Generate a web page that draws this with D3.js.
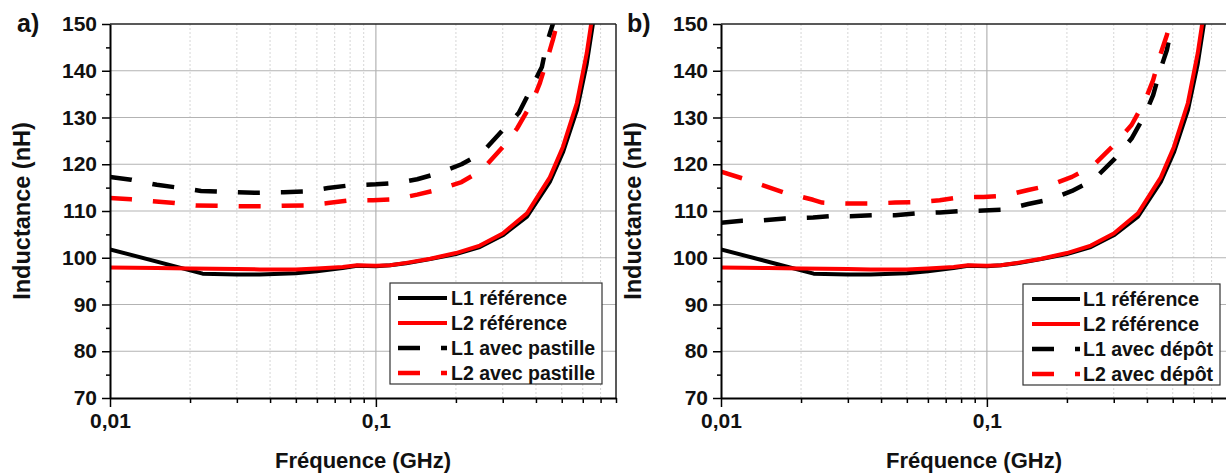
<!DOCTYPE html>
<html><head><meta charset="utf-8">
<script src="https://cdn.jsdelivr.net/npm/d3@7"></script>
<style>
body{margin:0;background:#fff}
svg text{font-family:"Liberation Sans",Arial,sans-serif;font-weight:bold;fill:#111}
</style>
</head><body><svg id="chart" width="1226" height="475"></svg>
<script>
// ---------- DATA ----------
// Reference curves (identical in both panels)
const refL1Freq = [0.01, 0.0223, 0.03, 0.0366, 0.05, 0.06, 0.075, 0.085, 0.1, 0.113, 0.13, 0.16, 0.2, 0.246, 0.3, 0.37, 0.451, 0.505, 0.57, 0.621, 0.655, 0.69];
const refL1Val  = [101.8, 96.6, 96.4, 96.4, 96.7, 97.1, 97.8, 98.3, 98.2, 98.4, 98.8, 99.7, 100.8, 102.3, 104.8, 108.8, 116.2, 122.5, 131.5, 141.5, 150, 160];
const refL2Freq = [0.01, 0.015, 0.02, 0.03, 0.0366, 0.05, 0.06, 0.075, 0.085, 0.1, 0.113, 0.13, 0.16, 0.2, 0.246, 0.3, 0.37, 0.451, 0.505, 0.57, 0.621, 0.645, 0.68];
const refL2Val  = [97.9, 97.8, 97.7, 97.6, 97.5, 97.5, 97.7, 98.0, 98.4, 98.3, 98.4, 98.9, 99.8, 101.0, 102.6, 105.2, 109.5, 117.2, 123.7, 133.1, 143.8, 150, 160];

// Panel a) "avec pastille"
const pastL1Freq = [0.01, 0.012, 0.015, 0.018, 0.022, 0.03, 0.035, 0.045, 0.055, 0.066, 0.08, 0.1, 0.12, 0.143, 0.17, 0.21, 0.25, 0.3, 0.345, 0.386, 0.421, 0.44, 0.463, 0.49];
const pastL1Val  = [117.3, 116.7, 115.6, 115.0, 114.3, 114.0, 113.9, 114.0, 114.2, 114.9, 115.5, 115.7, 116.0, 116.8, 118.0, 120.0, 122.4, 127.3, 131.0, 136.5, 140.8, 146.0, 150.0, 156];
const pastL2Freq = [0.01, 0.012, 0.0144, 0.0175, 0.021, 0.031, 0.038, 0.0443, 0.055, 0.066, 0.08, 0.0976, 0.118, 0.143, 0.17, 0.21, 0.25, 0.3, 0.34, 0.386, 0.414, 0.44, 0.463, 0.49];
const pastL2Val  = [112.8, 112.5, 112.1, 111.7, 111.2, 111.0, 111.0, 111.1, 111.2, 111.7, 112.3, 112.3, 112.5, 113.5, 114.5, 116.2, 118.7, 123.7, 127.7, 133.1, 137.4, 142.3, 146.6, 152];

// Panel b) "avec dépôt"
const depL1Freq = [0.01, 0.012, 0.0144, 0.0174, 0.0222, 0.0257, 0.0306, 0.0373, 0.0452, 0.0547, 0.0665, 0.0806, 0.097, 0.117, 0.143, 0.173, 0.209, 0.251, 0.303, 0.35, 0.394, 0.422, 0.449, 0.475, 0.498, 0.52];
const depL1Val  = [107.5, 107.9, 108.0, 108.4, 108.6, 108.9, 108.9, 109.1, 109.1, 109.5, 109.7, 110.0, 110.1, 110.3, 111.5, 112.5, 114.3, 116.6, 121.2, 125.5, 130.7, 134.8, 140.2, 144.4, 150, 154];
const depL2Freq = [0.01, 0.012, 0.0144, 0.0174, 0.0222, 0.024, 0.0257, 0.0306, 0.0373, 0.0452, 0.0547, 0.0665, 0.0806, 0.097, 0.117, 0.143, 0.173, 0.209, 0.251, 0.303, 0.35, 0.394, 0.422, 0.449, 0.475, 0.5];
const depL2Val  = [118.4, 117.0, 115.5, 113.9, 112.4, 111.8, 111.7, 111.6, 111.6, 111.8, 111.9, 112.3, 113.0, 113.0, 113.3, 114.5, 115.5, 117.3, 119.7, 124.3, 128.4, 133.7, 138.0, 143.4, 147.6, 152];

// Axes
const xDomain = [0.01, 0.8];
const yDomain = [70, 150];
const xMajorTicks = [0.01, 0.1];
const xTickLabels = ["0,01", "0,1"];
const xMinorTicks = [0.02,0.03,0.04,0.05,0.06,0.07,0.08,0.09,0.2,0.3,0.4,0.5,0.6,0.7,0.8];
const yMajorTicks = [70, 80, 90, 100, 110, 120, 130, 140, 150];
const yMinorTicks = [75, 85, 95, 105, 115, 125, 135, 145];
const xTitle = "Fréquence (GHz)";
const yTitle = "Inductance (nH)";
const panelLabels = ["a)", "b)"];
const legendA = ["L1 référence", "L2 référence", "L1 avec pastille", "L2 avec pastille"];
const legendB = ["L1 référence", "L2 référence", "L1 avec dépôt", "L2 avec dépôt"];

// ---------- DRAW ----------
const svg = d3.select("#chart");
const BLACK = "#000", RED = "#ff0000";
const zip = (f, v) => f.map((d, i) => ({f: d, v: v[i]}));

const panels = [
  {L: 110, R: 616, T: 24, B: 398, label: panelLabels[0], labelX: 17, yTitleX: 30, xTitleX: 363,
   dashed: [[pastL1Freq, pastL1Val], [pastL2Freq, pastL2Val]], legend: legendA,
   leg: {x: 390, y: 283, w: 212, h: 101, l1: 398, l2: 447, tx: 451}},
  {L: 721, R: 1227, T: 24, B: 398, label: panelLabels[1], labelX: 627, yTitleX: 641, xTitleX: 974,
   dashed: [[depL1Freq, depL1Val], [depL2Freq, depL2Val]], legend: legendB,
   leg: {x: 1023, y: 284, w: 197, h: 101, l1: 1032, l2: 1080, tx: 1083}}
];

panels.forEach((p, pi) => {
  const x = d3.scaleLog().domain(xDomain).range([p.L, p.R]);
  const y = d3.scaleLinear().domain(yDomain).range([p.B, p.T]);
  const g = svg.append("g");

  // minor vertical grid
  g.selectAll(".vminor").data(xMinorTicks.filter(d => d < 0.8)).enter().append("line")
    .attr("x1", d => x(d)).attr("x2", d => x(d)).attr("y1", p.T).attr("y2", p.B)
    .attr("stroke", "#d6d6d6").attr("stroke-width", 1).attr("stroke-dasharray", "2,2");
  // major grid
  g.selectAll(".hmajor").data(yMajorTicks.filter(d => d > 70 && d < 150)).enter().append("line")
    .attr("x1", p.L).attr("x2", p.R).attr("y1", d => y(d)).attr("y2", d => y(d))
    .attr("stroke", "#b3b3b3").attr("stroke-width", 1.2);
  g.selectAll(".vmajor").data([0.1]).enter().append("line")
    .attr("x1", d => x(d)).attr("x2", d => x(d)).attr("y1", p.T).attr("y2", p.B)
    .attr("stroke", "#b3b3b3").attr("stroke-width", 1.2);

  // clip
  const cid = "clip" + pi;
  svg.append("clipPath").attr("id", cid).append("rect")
    .attr("x", p.L).attr("y", p.T).attr("width", p.R - p.L).attr("height", p.B - p.T);
  const lines = g.append("g").attr("clip-path", `url(#${cid})`);
  const line = d3.line().x(d => x(d.f)).y(d => y(d.v));

  const series = [
    {d: zip(refL1Freq, refL1Val), c: BLACK, dash: null},
    {d: zip(refL2Freq, refL2Val), c: RED, dash: null},
    {d: zip(p.dashed[0][0], p.dashed[0][1]), c: BLACK, dash: "22,21"},
    {d: zip(p.dashed[1][0], p.dashed[1][1]), c: RED, dash: "22,21"}
  ];
  series.forEach(s => {
    lines.append("path").datum(s.d).attr("d", line)
      .attr("fill", "none").attr("stroke", s.c)
      .attr("stroke-width", s.dash ? 4.5 : 4)
      .attr("stroke-linejoin", "round")
      .attr("stroke-dasharray", s.dash);
  });

  // frame top/right
  g.append("line").attr("x1", p.L).attr("x2", p.R).attr("y1", p.T).attr("y2", p.T)
    .attr("stroke", "#222").attr("stroke-width", 1.5);
  g.append("line").attr("x1", p.R).attr("x2", p.R).attr("y1", p.T).attr("y2", p.B)
    .attr("stroke", "#222").attr("stroke-width", 1.5);

  // axes
  const yAx = g.append("g").attr("transform", `translate(${p.L},0)`)
    .call(d3.axisLeft(y).tickValues(yMajorTicks).tickSize(8).tickSizeOuter(0).tickPadding(5));
  yAx.selectAll("text").style("font-size", "21px");
  g.append("g").attr("transform", `translate(${p.L},0)`)
    .call(d3.axisLeft(y).tickValues(yMinorTicks).tickSize(4).tickFormat("").tickSizeOuter(0))
    .select(".domain").remove();
  const xAx = g.append("g").attr("transform", `translate(0,${p.B})`)
    .call(d3.axisBottom(x).tickValues(xMajorTicks).tickSize(9).tickSizeOuter(0).tickPadding(6)
      .tickFormat((d, i) => xTickLabels[i]));
  xAx.selectAll("text").style("font-size", "21px");
  g.append("g").attr("transform", `translate(0,${p.B})`)
    .call(d3.axisBottom(x).tickValues(xMinorTicks).tickSize(5).tickFormat("").tickSizeOuter(0))
    .select(".domain").remove();
  g.selectAll(".domain").attr("stroke", "#000").attr("stroke-width", 2);
  g.selectAll(".tick line").attr("stroke", "#000").attr("stroke-width", 1.5);
  g.selectAll(".tick text").attr("fill", "#111").attr("font-family", null).attr("font-size", null);

  // titles
  g.append("text").attr("x", p.xTitleX).attr("y", 468).attr("text-anchor", "middle")
    .style("font-size", "22px").text(xTitle);
  g.append("text").attr("transform", `translate(${p.yTitleX},211) rotate(-90)`)
    .attr("text-anchor", "middle").style("font-size", "23.5px").text(yTitle);
  g.append("text").attr("x", p.labelX).attr("y", 32).style("font-size", "25px").text(p.label);

  // legend
  const L = p.leg;
  const lg = g.append("g");
  lg.append("rect").attr("x", L.x).attr("y", L.y).attr("width", L.w).attr("height", L.h)
    .attr("fill", "#fff").attr("stroke", "#333").attr("stroke-width", 1.2);
  series.forEach((s, i) => {
    const cy = L.y + 15 + i * 25;
    lg.append("line").attr("x1", L.l1).attr("x2", L.l2).attr("y1", cy).attr("y2", cy)
      .attr("stroke", s.c).attr("stroke-width", s.dash ? 4.5 : 4)
      .attr("stroke-dasharray", s.dash);
    lg.append("text").attr("x", L.tx).attr("y", cy).attr("dy", "0.36em")
      .style("font-size", "19.5px").text(p.legend[i]);
  });
});
</script>
</body></html>
